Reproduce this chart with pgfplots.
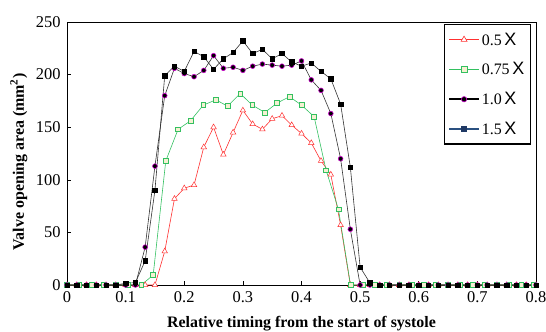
\documentclass[border=0pt]{standalone}
\usepackage{fontspec}
\setmainfont{Liberation Serif}
\newfontfamily\xfont{Liberation Sans}
\usepackage{pgfplots}
\pgfplotsset{compat=1.18}
\definecolor{rd}{HTML}{FF3030}
\definecolor{gr}{HTML}{33C060}
\definecolor{mg}{HTML}{CC00CC}
\definecolor{cream}{HTML}{F5F0D2}
\definecolor{navy}{HTML}{2A5080}
\definecolor{navym}{HTML}{1F3864}
\definecolor{dk}{HTML}{333333}
\pgfplotstableread{
x y
0 0
0.0167 0
0.0333 0
0.05 0
0.0667 0
0.0833 0
0.1 0
0.1167 0
0.1333 0
0.15 0
0.1667 32
0.1833 82
0.2 92
0.2167 95
0.2333 131
0.25 150
0.2667 124
0.2833 145
0.3 166
0.3167 153
0.3333 148
0.35 158
0.3667 161
0.3833 152
0.4 144
0.4167 135
0.4333 118
0.45 105
0.4667 57
0.4833 0
0.5 0
0.5167 0
0.5333 0
0.55 0
0.5667 0
0.5833 0
0.6 0
0.6167 0
0.6333 0
0.65 0
0.6667 0
0.6833 0
0.7 0
0.7167 0
0.7333 0
0.75 0
0.7667 0
0.7833 0
0.8 0
}\redtab
\pgfplotstableread{
x y
0 0
0.0208 0
0.0417 0
0.0625 0
0.0833 0
0.1042 0
0.1267 0
0.1470 9.5
0.1685 118
0.1895 148
0.2105 156
0.2325 171
0.2540 176
0.2740 170
0.2955 182
0.3160 171
0.3375 164
0.3585 173
0.3795 179
0.4000 171
0.4215 160
0.4420 109
0.4630 72
0.4836 0
0.5042 0
0.525 0
0.5458 0
0.5667 0
0.5875 0
0.6083 0
0.6292 0
0.65 0
0.6708 0
0.6917 0
0.7125 0
0.7333 0
0.7542 0
0.775 0
0.7958 0
}\greentab
\pgfplotstableread{
x y
0 0
0.0167 0
0.0333 0
0.05 0
0.0667 0
0.0833 0
0.1 0
0.1167 0
0.1333 36
0.15 113
0.1667 180
0.1833 206
0.2 201
0.2167 198
0.2333 204
0.25 218
0.2667 206
0.2833 207
0.3 204
0.3167 208
0.3333 210
0.35 209
0.3667 208
0.3833 209
0.4 213
0.4167 195
0.4333 185
0.45 163
0.4667 120
0.4833 53
0.5 0
0.5167 0
0.5333 0
0.55 0
0.5667 0
0.5833 0
0.6 0
0.6167 0
0.6333 0
0.65 0
0.6667 0
0.6833 0
0.7 0
0.7167 0
0.7333 0
0.75 0
0.7667 0
0.7833 0
0.8 0
}\magtab
\pgfplotstableread{
x y
0 0
0.0167 0
0.0333 0
0.05 0
0.0667 0
0.0833 0
0.1 1.6
0.1167 2.3
0.1333 23
0.15 90
0.1667 199
0.1833 208
0.2 203
0.2167 222
0.2333 217
0.25 205
0.2667 215
0.2833 221
0.3 232
0.3167 220
0.3333 224
0.35 215
0.3667 220
0.3833 212
0.4 208
0.4167 211
0.4333 203
0.45 196
0.4667 172
0.4833 112
0.5 17
0.5167 2
0.5333 0
0.55 0
0.5667 0
0.5833 0
0.6 0
0.6167 0
0.6333 0
0.65 0
0.6667 0
0.6833 0
0.7 0
0.7167 0
0.7333 0
0.75 0
0.7667 0
0.7833 0
0.8 0
}\blacktab
\begin{document}
\begin{tikzpicture}
\begin{axis}[name=ax, at={(0,0)}, anchor=south west,
  scale only axis, width=469bp, height=263bp,
  xmin=0, xmax=0.8, ymin=0, ymax=250,
  xtick={0,0.1,0.2,0.3,0.4,0.5,0.6,0.7,0.8},
  xticklabels={0,0.1,0.2,0.3,0.4,0.5,0.6,0.7,0.8},
  ytick={0,50,100,150,200,250},
  tick align=inside, xtick pos=bottom, ytick pos=left,
  major tick length=4bp,
  axis line style={line width=0.9pt},
  tick style={black, line width=0.6pt},
  ticklabel style={font=\fontsize{16.5}{19}\selectfont},
  /pgf/number format/assume math mode=true,
  xticklabel style={yshift=-3bp},
  yticklabel style={xshift=-3bp},
  xlabel={Relative timing from the start of systole},
  ylabel={Valve opening area (mm\textsuperscript{2})},
  label style={font=\bfseries\fontsize{16}{19}\selectfont},
  xlabel style={at={(axis description cs:0.5,0)}, anchor=base, yshift=-42bp},
  ylabel style={at={(axis description cs:-0.103,0.468)}, anchor=center, rotate=0},
  legend style={at={(1,1)}, anchor=north east, xshift=-5bp, yshift=-2bp,
    draw=black, line width=1.4pt, font=\fontsize{16}{19}\selectfont,
    inner xsep=4bp, inner ysep=6bp, row sep=12bp, cells={anchor=west}},
  legend image code/.code={\draw[#1] (0bp,0bp) -- (30bp,0bp);
    \draw[#1] plot coordinates {(15bp,0bp)};},
  clip=false,
]
\addplot[rd, line width=0.6pt, mark=triangle*, mark size=3.2pt, mark options={fill=white, draw=rd, line width=0.5pt}, forget plot] table[x=x,y=y] {\redtab};
\addplot[gr, line width=0.6pt, mark=square*, mark size=2.4pt, mark options={fill=cream, draw=gr, line width=0.6pt}, forget plot] table[x=x,y=y] {\greentab};
\addplot[dk, line width=0.6pt, mark=*, mark size=2.4pt, mark options={fill=black, draw=mg, line width=0.6pt}, forget plot] table[x=x,y=y] {\magtab};
\addplot[dk, line width=0.6pt, mark=square*, mark size=2.2pt, mark options={fill=black, draw=black}, forget plot] table[x=x,y=y] {\blacktab};
\addlegendimage{rd, line width=1.5pt, mark=triangle*, mark size=3.5pt, mark options={fill=white, draw=rd, line width=0.6pt}}
\addlegendentry{0.5\,{\xfont\fontsize{18}{19}\selectfont X}}
\addlegendimage{gr, line width=1.5pt, mark=square*, mark size=3pt, mark options={fill=cream, draw=gr, line width=0.8pt}}
\addlegendentry{0.75\,{\xfont\fontsize{18}{19}\selectfont X}}
\addlegendimage{black, line width=1.5pt, mark=*, mark size=2.7pt, mark options={fill=black, draw=mg, line width=0.6pt}}
\addlegendentry{1.0\,{\xfont\fontsize{18}{19}\selectfont X}}
\addlegendimage{navy, line width=1.5pt, mark=square*, mark size=2.7pt, mark options={fill=navym, draw=navym}}
\addlegendentry{1.5\,{\xfont\fontsize{18}{19}\selectfont X}}
\end{axis}
\pgfresetboundingbox
\path ([shift={(-67bp,-46bp)}]ax.south west) rectangle ([shift={(10bp,22bp)}]ax.north east);
\end{tikzpicture}
\end{document}
